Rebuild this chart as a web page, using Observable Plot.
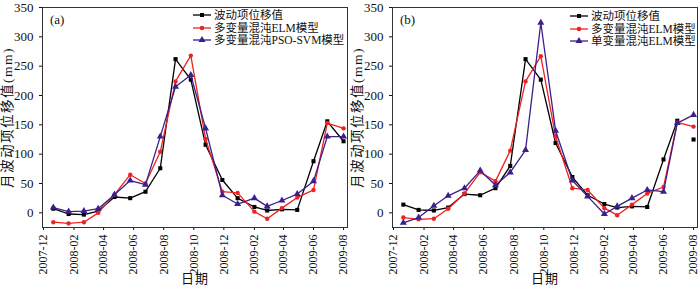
<!DOCTYPE html>
<html>
<head>
<meta charset="utf-8">
<script src="https://cdn.jsdelivr.net/npm/d3@7"></script>
<script src="https://cdn.jsdelivr.net/npm/@observablehq/plot@0.6"></script>
<style>
  html, body { margin: 0; padding: 0; background: #fff; }
  #wrap { position: relative; width: 700px; height: 289px; display: flex; }
  .panel { position: relative; width: 350px; height: 289px; }
  .legend { position: absolute; font-family: "Liberation Serif", "Noto Sans CJK SC", serif; font-size: 11.5px; color: #111; line-height: 12.5px; }
  .legend .row { display: flex; align-items: center; height: 12.5px; white-space: nowrap; }
  .legend svg { margin-right: 3px; }
  .tag { position: absolute; font-family: "Liberation Serif", serif; font-size: 13px; color: #111; }
  g[aria-label="y-axis label"] text { letter-spacing: 1.5px; font-size: 13.5px; }
  g[aria-label="x-axis label"] text { letter-spacing: 1px; }
</style>
</head>
<body>
<div id="wrap"></div>
<script>
// ---- data ----
const dates = ["2007-12-21","2008-01-21","2008-02-21","2008-03-21","2008-04-23","2008-05-25","2008-06-25","2008-07-25","2008-08-25","2008-09-25","2008-10-25","2008-11-28","2008-12-29","2009-02-01","2009-02-27","2009-03-29","2009-04-29","2009-06-01","2009-06-29","2009-08-01"];
const tickLabels = ["2007-12","2008-02","2008-04","2008-06","2008-08","2008-10","2008-12","2009-02","2009-04","2009-06","2009-08"];
const yTicks = [0, 50, 100, 150, 200, 250, 300, 350];

const aObserved = [7, -2, -3, 3, 27, 25, 36, 76, 262, 227, 116, 56, 25, 10, 4, 6, 5, 88, 156, 122];
const aELM      = [-16, -18, -16, 0, 31, 65, 50, 104, 224, 268, 126, 36, 34, 2, -10, 8, 26, 39, 153, 144];
const aPSO      = [9, 2, 3, 7, 31, 55, 48, 130, 215, 235, 144, 30, 15, 25, 11, 21, 32, 54, 130, 130];

const bObserved = [14, 5, 4, 9, 32, 30, 42, 80, 262, 227, 119, 61, 30, 15, 9, 11, 10, 91, 157, 125];
const bELM      = [-8, -11, -10, 7, 33, 69, 54, 106, 224, 267, 130, 42, 39, 8, -4, 14, 33, 44, 154, 147];
const bSingle   = [-17, -8, 12, 29, 42, 72, 47, 69, 107, 324, 140, 55, 28, -2, 11, 25, 39, 36, 153, 167];

const nameObserved = "波动项位移值";
const nameELM = "多变量混沌ELM模型";
const namePSO = "多变量混沌PSO-SVM模型";
const nameSingle = "单变量混沌ELM模型";
const xTitle = "日期";
const yTitle = "月波动项位移值(mm)";

const parse = d3.utcParse("%Y-%m-%d");
const parseMonth = d3.utcParse("%Y-%m");
const tickDates = tickLabels.map(parseMonth);

const FONT = "'Liberation Serif', 'Noto Sans CJK SC', serif";

function makePanel(tag, series, legendPos) {
  const div = document.createElement("div");
  div.className = "panel";
  const marks = [
    Plot.axisX({ticks: tickDates, tickFormat: d3.utcFormat("%Y-%m"), tickRotate: -90, tickSize: 3, tickPadding: 4, fontSize: 12, label: null}),
    Plot.axisY({ticks: yTicks, tickSize: 3, fontSize: 13, label: null}),
    Plot.axisX({ticks: [], label: xTitle, labelAnchor: "center", labelOffset: 55, fontSize: 13, labelArrow: "none"}),
    Plot.axisY({ticks: [], label: yTitle, labelAnchor: "center", labelOffset: 40, fontSize: 13, labelArrow: "none"}),
    Plot.frame({stroke: "#333", strokeWidth: 1})
  ];
  for (const s of series) {
    const rows = s.values.map((v, i) => ({date: parse(dates[i]), value: v}));
    const lineRows = s.lineCount ? rows.slice(0, s.lineCount) : rows;
    marks.push(Plot.line(lineRows, {x: "date", y: "value", stroke: s.color, strokeWidth: 1.3}));
    marks.push(Plot.dot(rows, {x: "date", y: "value", symbol: s.symbol, fill: s.color, r: s.r}));
  }
  const chart = Plot.plot({
    width: 350,
    height: 289,
    marginLeft: 42,
    marginRight: 3,
    marginTop: 7,
    marginBottom: 62,
    style: {fontFamily: FONT, fontSize: "12px", background: "white", color: "#111"},
    x: {type: "utc", domain: [parse("2007-11-29"), parse("2009-08-09")]},
    y: {domain: [-25, 350]},
    marks
  });
  div.appendChild(chart);

  const t = document.createElement("div");
  t.className = "tag";
  t.textContent = tag;
  t.style.left = "50px";
  t.style.top = "12px";
  div.appendChild(t);

  const leg = document.createElement("div");
  leg.className = "legend";
  leg.style.left = legendPos.left + "px";
  leg.style.top = legendPos.top + "px";
  for (const s of series) {
    const row = document.createElement("div");
    row.className = "row";
    const ns = "http://www.w3.org/2000/svg";
    const svg = document.createElementNS(ns, "svg");
    svg.setAttribute("width", "18");
    svg.setAttribute("height", "10");
    const ln = document.createElementNS(ns, "line");
    ln.setAttribute("x1", "0"); ln.setAttribute("x2", "18");
    ln.setAttribute("y1", "5"); ln.setAttribute("y2", "5");
    ln.setAttribute("stroke", s.color); ln.setAttribute("stroke-width", "1.3");
    svg.appendChild(ln);
    const sym = d3.symbol().type(s.symbol === "square" ? d3.symbolSquare : s.symbol === "triangle" ? d3.symbolTriangle : d3.symbolCircle).size(s.symbol === "triangle" ? 22 : 16)();
    const p = document.createElementNS(ns, "path");
    p.setAttribute("d", sym);
    p.setAttribute("transform", "translate(9,5)");
    p.setAttribute("fill", s.color);
    svg.appendChild(p);
    row.appendChild(svg);
    const span = document.createElement("span");
    span.textContent = s.name;
    row.appendChild(span);
    leg.appendChild(row);
  }
  div.appendChild(leg);
  return div;
}

const BLACK = "#000000", RED = "#ee2222", PURPLE = "#3c1f8c";
const wrap = document.getElementById("wrap");
wrap.appendChild(makePanel("(a)", [
  {name: nameObserved, values: aObserved, color: BLACK, symbol: "square", r: 2.3},
  {name: nameELM, values: aELM, color: RED, symbol: "circle", r: 2.2},
  {name: namePSO, values: aPSO, color: PURPLE, symbol: "triangle", r: 2.6}
], {left: 193, top: 9}));
wrap.appendChild(makePanel("(b)", [
  {name: nameObserved, values: bObserved, color: BLACK, symbol: "square", r: 2.3, lineCount: 19},
  {name: nameELM, values: bELM, color: RED, symbol: "circle", r: 2.2},
  {name: nameSingle, values: bSingle, color: PURPLE, symbol: "triangle", r: 2.6}
], {left: 220, top: 10}));
</script>
</body>
</html>
